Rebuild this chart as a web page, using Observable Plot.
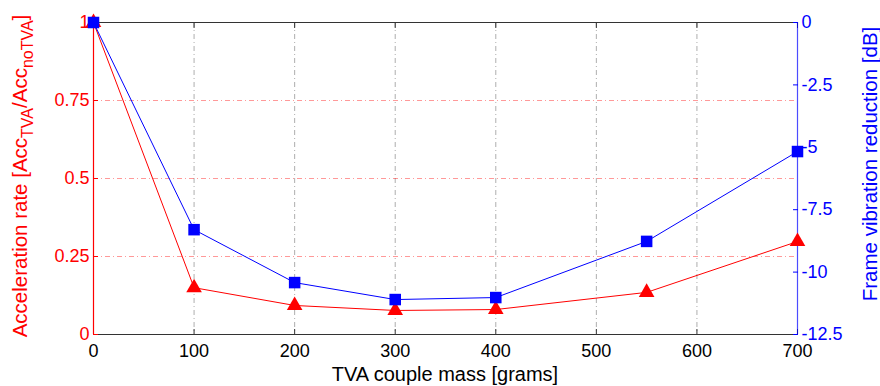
<!DOCTYPE html>
<html><head><meta charset="utf-8">
<script src="https://cdn.jsdelivr.net/npm/d3@7"></script>
<script src="https://cdn.jsdelivr.net/npm/@observablehq/plot@0.6"></script>
<style>body{margin:0;background:#fff}svg{display:block}</style>
</head><body><div id="chart"></div>
<script>
const masses = [0, 100, 200, 300, 400, 550, 700];
const accRate = [1, 0.15, 0.093, 0.077, 0.08, 0.135, 0.298];
const vibReduction = [0, -8.3, -10.42, -11.1, -11.02, -8.77, -5.17];
const xTicks = [0, 100, 200, 300, 400, 500, 600, 700];
const gridXTicks = [100, 200, 300, 400, 500, 600];
const leftTicks = [0, 0.25, 0.5, 0.75, 1];
const gridYTicks = [0.25, 0.5, 0.75];
const rightTicks = [0, -2.5, -5, -7.5, -10, -12.5];
const rightMin = -12.5, rightMax = 0;

const toLeft = v => (v - rightMin) / (rightMax - rightMin);
const fromLeft = d => Math.round((rightMin + d * (rightMax - rightMin)) * 10) / 10;

const acc = masses.map((m, i) => ({m, v: accRate[i]}));
const vib = masses.map((m, i) => ({m, v: toLeft(vibReduction[i])}));

const RED = "#ff0000", BLUE = "#0000ff";
const font = "Liberation Sans, Arial, sans-serif";

const svg = Plot.plot({
  width: 880, height: 386,
  marginLeft: 93, marginRight: 83, marginTop: 22, marginBottom: 52,
  style: {fontFamily: font, fontSize: "18px", background: "#fff"},
  x: {domain: [0, 700], axis: null},
  y: {domain: [0, 1], axis: null},
  marks: [
    Plot.gridX(gridXTicks, {stroke: "#777", strokeOpacity: 0.6, strokeDasharray: "5,3,1,3"}),
    Plot.gridY(gridYTicks, {stroke: RED, strokeOpacity: 0.4, strokeDasharray: "5,3,1,3"}),
    Plot.ruleY([0, 1], {stroke: "#333", strokeWidth: 1.2}),
    Plot.axisX(xTicks, {anchor: "bottom", label: null, tickSize: 0, tickPadding: 10, fill: "#000", fontSize: 18, tickFormat: d => String(d)}),
    Plot.axisX(xTicks, {anchor: "bottom", label: null, tickSize: -5, tickFormat: () => "", stroke: "#333"}),
    Plot.axisX(xTicks, {anchor: "top", label: null, tickSize: -5, tickFormat: () => "", stroke: "#333"}),
    Plot.axisY(leftTicks, {anchor: "left", label: null, tickSize: -5, tickPadding: 9, stroke: RED, fill: RED, fontSize: 18, tickFormat: d => String(d)}),
    Plot.axisY(rightTicks.map(toLeft), {anchor: "right", label: null, tickSize: -5, tickPadding: 9, stroke: BLUE, fill: BLUE, fontSize: 18, tickFormat: d => String(fromLeft(d))}),
    Plot.ruleX([0], {stroke: RED, strokeWidth: 1.2}),
    Plot.ruleX([700], {stroke: BLUE, strokeOpacity: 0.7, strokeWidth: 1.2}),
    Plot.line(acc, {x: "m", y: "v", stroke: RED, strokeWidth: 1}),
    Plot.line(vib, {x: "m", y: "v", stroke: BLUE, strokeWidth: 1}),
    Plot.dot(acc, {x: "m", y: "v", symbol: "triangle", r: 5.8, fill: RED, stroke: "none"}),
    Plot.dot(vib, {x: "m", y: "v", symbol: "square", r: 6.5, fill: BLUE, stroke: "none"})
  ]
});

const s = d3.select(svg);
s.append("text").attr("x", 445).attr("y", 381).attr("text-anchor", "middle")
  .attr("font-family", font).attr("font-size", 20).attr("fill", "#000")
  .text("TVA couple mass [grams]");

const ll = s.append("text").attr("transform", "translate(27,176) rotate(-90)")
  .attr("text-anchor", "middle").attr("font-family", font).attr("font-size", 20.5).attr("fill", RED);
ll.append("tspan").text("Acceleration rate [Acc");
ll.append("tspan").attr("dy", 6).attr("font-size", 16).text("TVA");
ll.append("tspan").attr("dy", -6).text("/Acc");
ll.append("tspan").attr("dy", 6).attr("font-size", 16).text("noTVA");
ll.append("tspan").attr("dy", -6).text("]");

s.append("text").attr("transform", "translate(877,164) rotate(-90)")
  .attr("text-anchor", "middle").attr("font-family", font).attr("font-size", 20.5).attr("fill", BLUE)
  .text("Frame vibration reduction [dB]");

document.getElementById("chart").appendChild(svg);
</script></body></html>
